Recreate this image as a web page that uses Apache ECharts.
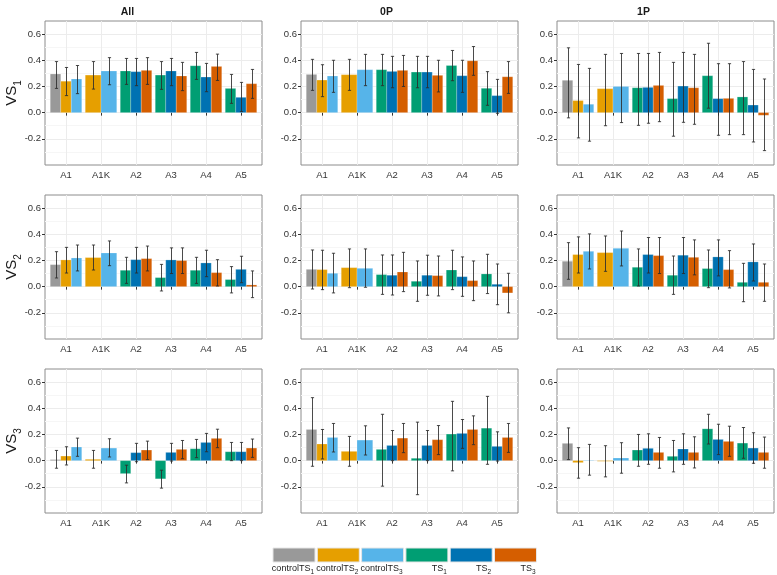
<!DOCTYPE html>
<html>
<head>
<meta charset="utf-8">
<script src="https://cdn.jsdelivr.net/npm/echarts@6/dist/echarts.min.js"></script>
<style>html,body{margin:0;padding:0;background:#fff}#c{width:777px;height:575px}</style>
</head>
<body>
<div id="c"></div>
<script>
// ---------------- DATA ----------------
const categories = ['A1', 'A1K', 'A2', 'A3', 'A4', 'A5'];
const groupNames = ['controlTS', 'controlTS', 'controlTS', 'TS', 'TS', 'TS'];
const groupSubs = ['1', '2', '3', '1', '2', '3'];
const groupColors = ['#999999', '#E69F00', '#56B4E9', '#009E73', '#0072B2', '#D55E00'];
// which groups appear at each category (in dodge order)
const barsPerCategory = [[0, 1, 2], [1, 2], [3, 4, 5], [3, 4, 5], [3, 4, 5], [3, 4, 5]];
const rowNames = ['VS', 'VS', 'VS'];
const rowSubs = ['1', '2', '3'];
const colNames = ['All', '0P', '1P'];
const yTicks = [-0.2, 0, 0.2, 0.4, 0.6];

// values in bar order: A1[cTS1,cTS2,cTS3], A1K[cTS2,cTS3], A2..A5[TS1,TS2,TS3]
const VS1_All_mean = [0.295, 0.24, 0.257, 0.287, 0.318, 0.318, 0.313, 0.323, 0.287, 0.318, 0.28, 0.358, 0.272, 0.353, 0.185, 0.117, 0.221];
const VS1_All_low = [0.185, 0.13, 0.145, 0.18, 0.213, 0.216, 0.206, 0.216, 0.178, 0.206, 0.168, 0.254, 0.16, 0.246, 0.071, 0.008, 0.109];
const VS1_All_high = [0.39, 0.345, 0.36, 0.39, 0.42, 0.414, 0.414, 0.42, 0.39, 0.414, 0.384, 0.46, 0.376, 0.447, 0.292, 0.231, 0.33];

const VS1_0P_mean = [0.292, 0.249, 0.28, 0.29, 0.328, 0.328, 0.315, 0.323, 0.31, 0.31, 0.285, 0.36, 0.282, 0.396, 0.186, 0.13, 0.274];
const VS1_0P_low = [0.17, 0.122, 0.155, 0.17, 0.206, 0.206, 0.19, 0.2, 0.19, 0.19, 0.158, 0.244, 0.155, 0.285, 0.056, -0.005, 0.147];
const VS1_0P_high = [0.407, 0.366, 0.4, 0.407, 0.445, 0.445, 0.43, 0.437, 0.43, 0.43, 0.4, 0.475, 0.4, 0.505, 0.313, 0.254, 0.39];

const VS1_1P_mean = [0.247, 0.092, 0.064, 0.183, 0.2, 0.19, 0.193, 0.208, 0.107, 0.203, 0.19, 0.282, 0.107, 0.109, 0.12, 0.058, -0.02];
const VS1_1P_low = [-0.04, -0.193, -0.218, -0.1, -0.076, -0.097, -0.081, -0.069, -0.18, -0.074, -0.089, 0.034, -0.173, -0.168, -0.168, -0.224, -0.29];
const VS1_1P_high = [0.495, 0.368, 0.338, 0.445, 0.452, 0.452, 0.452, 0.46, 0.384, 0.46, 0.445, 0.53, 0.374, 0.374, 0.39, 0.33, 0.257];

const VS2_All_mean = [0.168, 0.204, 0.219, 0.222, 0.257, 0.125, 0.206, 0.214, 0.069, 0.204, 0.199, 0.125, 0.181, 0.107, 0.054, 0.132, 0.013];
const VS2_All_low = [0.066, 0.104, 0.12, 0.127, 0.16, 0.025, 0.104, 0.12, -0.033, 0.1, 0.1, 0.025, 0.076, 0.005, -0.048, 0.03, -0.084];
const VS2_All_high = [0.267, 0.3, 0.318, 0.318, 0.349, 0.224, 0.3, 0.31, 0.17, 0.296, 0.296, 0.224, 0.278, 0.206, 0.153, 0.232, 0.12];

const VS2_0P_mean = [0.132, 0.13, 0.102, 0.145, 0.14, 0.092, 0.087, 0.112, 0.041, 0.087, 0.084, 0.127, 0.076, 0.046, 0.097, 0.018, -0.048];
const VS2_0P_low = [-0.018, -0.023, -0.048, -0.008, -0.005, -0.059, -0.064, -0.038, -0.112, -0.066, -0.071, -0.023, -0.074, -0.107, -0.053, -0.138, -0.2];
const VS2_0P_high = [0.28, 0.278, 0.255, 0.288, 0.288, 0.242, 0.242, 0.262, 0.196, 0.24, 0.234, 0.278, 0.227, 0.196, 0.247, 0.173, 0.102];

const VS2_1P_mean = [0.194, 0.245, 0.27, 0.26, 0.293, 0.148, 0.245, 0.237, 0.087, 0.24, 0.224, 0.138, 0.227, 0.13, 0.033, 0.189, 0.033];
const VS2_1P_low = [0.056, 0.104, 0.135, 0.117, 0.158, 0.005, 0.104, 0.1, -0.059, 0.1, 0.09, -0.008, 0.082, -0.01, -0.115, 0.043, -0.112];
const VS2_1P_high = [0.336, 0.38, 0.403, 0.387, 0.425, 0.288, 0.375, 0.375, 0.234, 0.375, 0.357, 0.28, 0.357, 0.275, 0.178, 0.326, 0.173];

const VS3_All_mean = [0.008, 0.035, 0.104, 0.01, 0.096, -0.099, 0.061, 0.081, -0.139, 0.063, 0.086, 0.091, 0.139, 0.17, 0.068, 0.068, 0.096];
const VS3_All_low = [-0.058, -0.033, 0.033, -0.058, 0.028, -0.17, -0.008, 0.008, -0.21, -0.003, 0.015, 0.023, 0.068, 0.099, 0.0, 0.0, 0.025];
const VS3_All_high = [0.078, 0.106, 0.172, 0.078, 0.167, -0.035, 0.132, 0.149, -0.073, 0.132, 0.154, 0.162, 0.208, 0.24, 0.139, 0.139, 0.165];

const VS3_0P_mean = [0.238, 0.127, 0.177, 0.071, 0.157, 0.086, 0.116, 0.172, 0.018, 0.116, 0.16, 0.203, 0.208, 0.238, 0.248, 0.109, 0.177];
const VS3_0P_low = [-0.043, 0.013, 0.066, -0.043, 0.043, -0.195, 0.0, 0.061, -0.26, 0.0, 0.046, -0.078, 0.094, 0.122, -0.028, -0.003, 0.063];
const VS3_0P_high = [0.481, 0.238, 0.284, 0.185, 0.266, 0.354, 0.23, 0.284, 0.294, 0.23, 0.268, 0.453, 0.314, 0.342, 0.491, 0.22, 0.284];

const VS3_1P_mean = [0.132, -0.015, 0.003, -0.005, 0.02, 0.081, 0.094, 0.063, 0.033, 0.089, 0.063, 0.243, 0.162, 0.147, 0.134, 0.096, 0.063];
const VS3_1P_low = [0.008, -0.134, -0.111, -0.124, -0.096, -0.043, -0.028, -0.058, -0.086, -0.028, -0.056, 0.127, 0.046, 0.033, 0.018, -0.02, -0.058];
const VS3_1P_high = [0.25, 0.099, 0.124, 0.114, 0.137, 0.2, 0.205, 0.177, 0.154, 0.205, 0.182, 0.354, 0.278, 0.263, 0.253, 0.213, 0.18];

const panelMeans = [[VS1_All_mean, VS1_0P_mean, VS1_1P_mean], [VS2_All_mean, VS2_0P_mean, VS2_1P_mean], [VS3_All_mean, VS3_0P_mean, VS3_1P_mean]];
const panelLows = [[VS1_All_low, VS1_0P_low, VS1_1P_low], [VS2_All_low, VS2_0P_low, VS2_1P_low], [VS3_All_low, VS3_0P_low, VS3_1P_low]];
const panelHighs = [[VS1_All_high, VS1_0P_high, VS1_1P_high], [VS2_All_high, VS2_0P_high, VS2_1P_high], [VS3_All_high, VS3_0P_high, VS3_1P_high]];

// ---------------- LAYOUT ----------------
const FONT = '"Liberation Sans", Arial, Helvetica, sans-serif';
const colLefts = [45, 301, 557];
const rowTops = [21, 195, 369];
const panelW = 217, panelH = 144;
const colTitleX = [127.5, 386.5, 643.5];

function panelItems(mean, low, high) {
  const items = [];
  let k = 0;
  barsPerCategory.forEach(function (gs, ci) {
    gs.forEach(function (g, si) {
      items.push([ci + 1, si, gs.length, g, mean[k], low[k], high[k]]);
      k++;
    });
  });
  return items;
}

function renderBar(params, api) {
  const cat = api.value(0), slot = api.value(1), n = api.value(2), g = api.value(3), v = api.value(4);
  const w = 0.9 / n;
  const x0 = cat - 0.45 + slot * w, x1 = x0 + w;
  const p0 = api.coord([x0, 0]);
  const p1 = api.coord([x1, v]);
  return {
    type: 'rect',
    shape: { x: p0[0], y: Math.min(p0[1], p1[1]), width: p1[0] - p0[0], height: Math.abs(p1[1] - p0[1]) },
    style: { fill: groupColors[g], stroke: 'rgba(255,255,255,0.35)', lineWidth: 0.6 }
  };
}

function renderErr(params, api) {
  const cat = api.value(0), slot = api.value(1), n = api.value(2), lo = api.value(5), hi = api.value(6);
  const w = 0.9 / n;
  const xc = cat - 0.45 + (slot + 0.5) * w;
  const pt = api.coord([xc, hi]);
  const pb = api.coord([xc, lo]);
  const x = Math.round(pt[0]) + 0.5;
  const st = { stroke: '#2b2b2b', lineWidth: 1, opacity: 0.85 };
  return {
    type: 'group',
    children: [
      { type: 'line', shape: { x1: x, y1: pt[1], x2: x, y2: pb[1] }, style: st },
      { type: 'line', shape: { x1: x - 1.6, y1: pt[1], x2: x + 1.6, y2: pt[1] }, style: st },
      { type: 'line', shape: { x1: x - 1.6, y1: pb[1], x2: x + 1.6, y2: pb[1] }, style: st }
    ]
  };
}

const grids = [], xAxes = [], yAxes = [], series = [], graphics = [];
let idx = 0;
for (let r = 0; r < 3; r++) {
  for (let c = 0; c < 3; c++) {
    grids.push({
      left: colLefts[c], top: rowTops[r], width: panelW, height: panelH,
      show: true, borderColor: '#8c8c8c', borderWidth: 1, backgroundColor: '#ffffff'
    });
    xAxes.push({
      gridIndex: idx, type: 'value', min: 0.4, max: 6.6,
      axisLine: { show: false },
      axisTick: { show: true, customValues: [1, 2, 3, 4, 5, 6], length: 3, lineStyle: { color: '#333' } },
      axisLabel: {
        customValues: [1, 2, 3, 4, 5, 6],
        formatter: function (v) { return categories[Math.round(v) - 1]; },
        fontSize: 9.5, color: '#333', margin: 5, fontFamily: FONT
      },
      splitLine: { show: true, lineStyle: { color: '#ececec', width: 1 } }
    });
    yAxes.push({
      gridIndex: idx, type: 'value', min: -0.4, max: 0.7, interval: 0.2,
      axisLine: { show: false },
      axisTick: { show: true, customValues: yTicks, length: 3, lineStyle: { color: '#333' } },
      axisLabel: {
        customValues: yTicks,
        formatter: function (v) { return v.toFixed(1); },
        fontSize: 9.5, color: '#333', margin: 4, fontFamily: FONT
      },
      splitLine: { show: true, lineStyle: { color: '#ececec', width: 1 } },
      minorTick: { show: false, splitNumber: 2 },
      minorSplitLine: { show: true, lineStyle: { color: '#f6f6f6', width: 1 } }
    });
    const items = panelItems(panelMeans[r][c], panelLows[r][c], panelHighs[r][c]);
    series.push({
      type: 'custom', xAxisIndex: idx, yAxisIndex: idx, renderItem: renderBar,
      data: items, encode: { x: 0, y: 4 }, z: 2, silent: true
    });
    series.push({
      type: 'custom', xAxisIndex: idx, yAxisIndex: idx, renderItem: renderErr,
      data: items, encode: { x: 0, y: [5, 6] }, z: 3, silent: true
    });
    idx++;
  }
}

// column titles
colNames.forEach(function (t, c) {
  graphics.push({
    type: 'text', x: colTitleX[c], y: 12,
    style: { text: t, font: 'bold 10.5px ' + FONT, fill: '#1a1a1a', align: 'center', verticalAlign: 'middle' }
  });
});
// row labels
rowNames.forEach(function (t, r) {
  graphics.push({
    type: 'text', x: 13, y: rowTops[r] + panelH / 2, rotation: Math.PI / 2,
    style: {
      text: '{m|' + t + '}{s|' + rowSubs[r] + '}', align: 'center', verticalAlign: 'middle',
      rich: {
        m: { fontSize: 15, fontFamily: FONT, fill: '#1a1a1a', verticalAlign: 'bottom', lineHeight: 20, padding: [0, 0, 4, 0] },
        s: { fontSize: 10, fontFamily: FONT, fill: '#1a1a1a', verticalAlign: 'bottom', lineHeight: 12 }
      }
    }
  });
});
// legend (labels right-aligned under each key, as in the reference)
const legX0 = 273, legStep = 44.3, legW = 42, legH = 14, legY = 548;
groupNames.forEach(function (nm, i) {
  graphics.push({
    type: 'rect', shape: { x: legX0 + i * legStep, y: legY, width: legW, height: legH },
    style: { fill: groupColors[i], stroke: '#e6e6e6', lineWidth: 1 }
  });
  graphics.push({
    type: 'text', x: legX0 + i * legStep + legW - 1, y: 570,
    style: {
      text: '{m|' + nm + '}{s|' + groupSubs[i] + '}', align: 'right', verticalAlign: 'middle',
      rich: {
        m: { fontSize: 9, fontFamily: FONT, fill: '#1a1a1a', verticalAlign: 'bottom', lineHeight: 11, padding: [0, 0, 2, 0] },
        s: { fontSize: 6.5, fontFamily: FONT, fill: '#1a1a1a', verticalAlign: 'bottom', lineHeight: 8 }
      }
    }
  });
});

const chart = echarts.init(document.getElementById('c'), null, { renderer: 'canvas' });
chart.setOption({
  backgroundColor: '#ffffff',
  animation: false,
  grid: grids,
  xAxis: xAxes,
  yAxis: yAxes,
  series: series,
  graphic: graphics
});
</script>
</body>
</html>
